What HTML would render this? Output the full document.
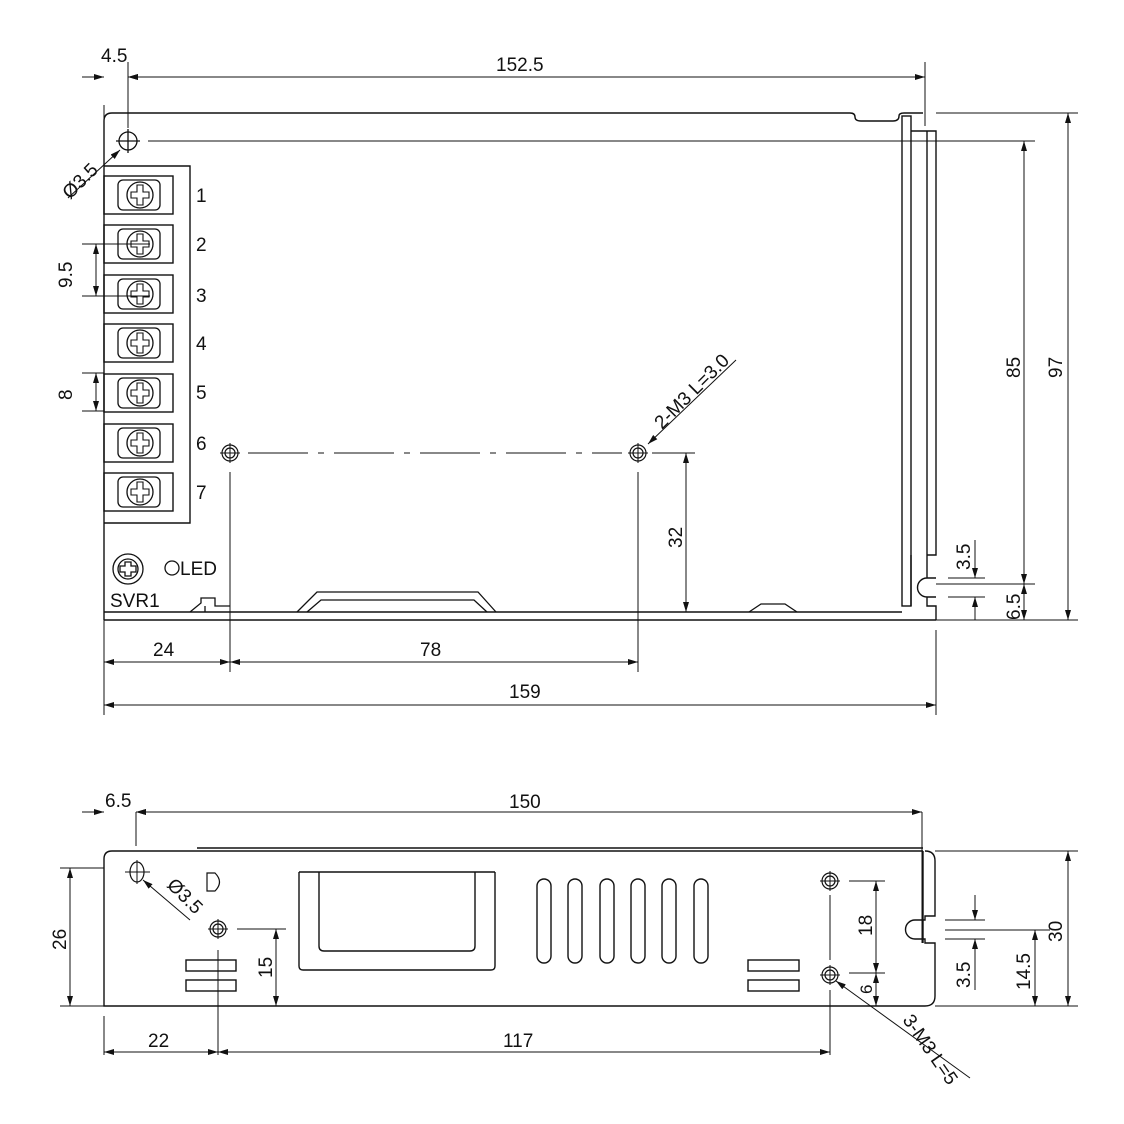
<!DOCTYPE html>
<html><head><meta charset="utf-8"><style>html,body{margin:0;padding:0;background:#fff}svg{display:block}text{font-family:"Liberation Sans",Arial,sans-serif;font-size:19px;fill:#111}</style></head><body>
<svg width="1124" height="1124" viewBox="0 0 1124 1124" xmlns="http://www.w3.org/2000/svg">
<defs>
<marker id="a" viewBox="0 0 10 6" refX="10" refY="3" markerWidth="10" markerHeight="6" markerUnits="userSpaceOnUse" orient="auto-start-reverse"><path d="M0,0L10,3L0,6z" fill="#111"/></marker>
<g id="term"><rect x="0" y="0" width="69" height="38" fill="none" stroke="#111" stroke-width="1.4"/><rect x="14" y="4" width="42" height="30" rx="5" fill="none" stroke="#111" stroke-width="1.3"/><circle cx="36" cy="19" r="13" fill="none" stroke="#111" stroke-width="1.3"/><path d="M33,9h6v7h6v6h-6v7h-6v-7h-6v-6h6z" fill="none" stroke="#111" stroke-width="1.1"/></g>
<g id="m3"><circle r="8" fill="none" stroke="#111" stroke-width="1.2"/><circle r="5" fill="none" stroke="#111" stroke-width="1.2"/><path d="M-10,0h20M0,-10v20" stroke="#111" stroke-width="1"/></g>
</defs>
<g fill="none" stroke="#111" stroke-width="1.4">
<!-- TOP VIEW body -->
<path d="M104,620V121q0,-8 8,-8H850q5,0 5,4q0,4 6,4H893q6,0 6,-5q0,-3 5,-3H923"/>
<path d="M104,612H902M104,620H936"/>
<rect x="902" y="116" width="9" height="490"/>
<path d="M911,131H936V555H927V131M927,555V578H936M936,597H927V606H936V620M927,597a9,9 0 0 1 0,-19"/>
<path d="M911,555V606"/>
<!-- terminal block -->
<path d="M104,166H190V523H104"/>
</g>
<use href="#term" x="104" y="176"/><use href="#term" x="104" y="225"/><use href="#term" x="104" y="275"/><use href="#term" x="104" y="324"/><use href="#term" x="104" y="374"/><use href="#term" x="104" y="424"/><use href="#term" x="104" y="473"/>
<g fill="none" stroke="#111" stroke-width="1.3">
<circle cx="128" cy="141" r="9"/><path d="M116,141h24M128,129v24"/>
<circle cx="128" cy="569" r="15"/><circle cx="128" cy="569" r="10"/><path d="M125,562h6v4h5v6h-5v4h-6v-4h-5v-6h5z"/>
<circle cx="172" cy="568" r="7"/>
<!-- handle -->
<path d="M297,612L317,592H478L496,612M307,612L321,600H474L487,612"/>
<path d="M749,612L761,604H785L797,612"/>
<path d="M190,612L201,603V598H215V606H230M205,612V606"/>
</g>
<use href="#m3" x="230" y="453"/><use href="#m3" x="638" y="453"/>
<g stroke="#111" stroke-width="1" fill="none">
<path d="M248,453H622" stroke-dasharray="60,10,6,10"/>
<path d="M230,472V672M638,472V672M652,453H695M686,453V612"/>
<path d="M148,141H1035M104,105V715M128,62V128M925,62V126M936,630V715"/>
<path d="M82,244H150M82,296H150M82,373H104M82,411H104"/>
<path d="M936,113H1078M936,584H1035M936,620H1078M948,578H985M948,597H985"/>
<!-- dim lines -->
<path d="M82,77H104" marker-end="url(#a)"/><path d="M150,77H128" marker-end="url(#a)"/><path d="M128,77H925" marker-start="url(#a)" marker-end="url(#a)"/>
<path d="M104,662H230" marker-start="url(#a)" marker-end="url(#a)"/><path d="M230,662H638" marker-start="url(#a)" marker-end="url(#a)"/>
<path d="M104,705H936" marker-start="url(#a)" marker-end="url(#a)"/>
<path d="M96,244V296" marker-start="url(#a)" marker-end="url(#a)"/>
<path d="M96,373V411" marker-start="url(#a)" marker-end="url(#a)"/>
<path d="M686,453V612" marker-start="url(#a)" marker-end="url(#a)"/>
<path d="M1024,141V584" marker-start="url(#a)" marker-end="url(#a)"/>
<path d="M1068,113V620" marker-start="url(#a)" marker-end="url(#a)"/>
<path d="M975,540V578" marker-end="url(#a)"/><path d="M975,620V597" marker-end="url(#a)"/>
<path d="M1024,584V620" marker-start="url(#a)" marker-end="url(#a)"/>
<path d="M68,198L120,150" marker-end="url(#a)"/>
<path d="M736,360L648,444" marker-end="url(#a)"/>
</g>
<text x="101" y="62">4.5</text><text x="496" y="71">152.5</text>
<text x="196" y="202">1</text><text x="196" y="251">2</text><text x="196" y="302">3</text><text x="196" y="350">4</text><text x="196" y="399">5</text><text x="196" y="450">6</text><text x="196" y="499">7</text>
<text x="180" y="575">LED</text><text x="110" y="607">SVR1</text>
<text x="153" y="656">24</text><text x="420" y="656">78</text><text x="509" y="698">159</text>
<text transform="translate(72,288) rotate(-90)">9.5</text>
<text transform="translate(72,400) rotate(-90)">8</text>
<text transform="translate(682,548) rotate(-90)">32</text>
<text transform="translate(1020,378) rotate(-90)">85</text>
<text transform="translate(1062,378) rotate(-90)">97</text>
<text transform="translate(970,570) rotate(-90)">3.5</text>
<text transform="translate(1020,620) rotate(-90)">6.5</text>
<text transform="translate(70,200) rotate(-45)">Ø3.5</text>
<text transform="translate(662,430) rotate(-45)">2-M3 L=3.0</text>

<!-- BOTTOM VIEW -->
<g fill="none" stroke="#111" stroke-width="1.4">
<path d="M923,851H112q-8,0 -8,8V1006H925q10,0 10,-10V943H925V939H915a9,9 0 0 1 0,-19H925V916H935V861q0,-10 -10,-10"/>
<path d="M197,848H923"/>
<path d="M923,851V943"/>
<path d="M207,873h8q9,9 0,18h-8z" stroke-width="1.2"/>
<path d="M299,872V966q0,4 4,4H491q4,0 4,-4V872M319,872V946q0,5 5,5H470q5,0 5,-5V872M299,872H495"/>
<rect x="537" y="879" width="14" height="84" rx="7"/><rect x="568" y="879" width="14" height="84" rx="7"/><rect x="600" y="879" width="14" height="84" rx="7"/><rect x="631" y="879" width="14" height="84" rx="7"/><rect x="662" y="879" width="14" height="84" rx="7"/><rect x="694" y="879" width="14" height="84" rx="7"/>
<rect x="186" y="960" width="50" height="11"/><rect x="186" y="980" width="50" height="11"/>
<rect x="748" y="960" width="51" height="11"/><rect x="748" y="980" width="51" height="11"/>
<ellipse cx="137" cy="872" rx="7" ry="10" stroke-width="1.2"/>
</g>
<use href="#m3" x="218" y="929"/><use href="#m3" x="830" y="881"/><use href="#m3" x="830" y="975"/>
<g stroke="#111" stroke-width="1" fill="none">
<path d="M125,872H150M137,860V884M104,868H60M104,1006H60M104,1016V1055M218,950V1055M830,895V960M830,990V1055M136,812V846M922,812V943"/>
<path d="M237,929H286M849,881H885M849,973H885M945,920H985M945,939H985M945,930H1050M935,851H1078M935,1006H1078"/>
<path d="M82,812H104" marker-end="url(#a)"/><path d="M158,812H136" marker-end="url(#a)"/><path d="M136,812H922" marker-start="url(#a)" marker-end="url(#a)"/>
<path d="M70,868V1006" marker-start="url(#a)" marker-end="url(#a)"/>
<path d="M276,929V1006" marker-start="url(#a)" marker-end="url(#a)"/>
<path d="M876,881V973" marker-start="url(#a)" marker-end="url(#a)"/>
<path d="M876,973V1006" marker-start="url(#a)" marker-end="url(#a)"/>
<path d="M975,895V920" marker-end="url(#a)"/><path d="M975,990V939" marker-end="url(#a)"/>
<path d="M1035,930V1006" marker-start="url(#a)" marker-end="url(#a)"/>
<path d="M1068,851V1006" marker-start="url(#a)" marker-end="url(#a)"/>
<path d="M104,1052H218" marker-start="url(#a)" marker-end="url(#a)"/><path d="M218,1052H830" marker-start="url(#a)" marker-end="url(#a)"/>
<path d="M190,920L143,880" marker-end="url(#a)"/>
<path d="M970,1078L836,981" marker-end="url(#a)"/>
</g>
<text x="105" y="807">6.5</text><text x="509" y="808">150</text>
<text x="148" y="1047">22</text><text x="503" y="1047">117</text>
<text transform="translate(66,950) rotate(-90)">26</text>
<text transform="translate(272,978) rotate(-90)">15</text>
<text transform="translate(872,936) rotate(-90)">18</text>
<text transform="translate(872,994) rotate(-90)" style="font-size:17px">6</text>
<text transform="translate(970,988) rotate(-90)">3.5</text>
<text transform="translate(1030,990) rotate(-90)">14.5</text>
<text transform="translate(1062,942) rotate(-90)">30</text>
<text transform="translate(166,886) rotate(45)">Ø3.5</text>
<text transform="translate(902,1020) rotate(55)">3-M3 L=5</text>
</svg>
</body></html>
